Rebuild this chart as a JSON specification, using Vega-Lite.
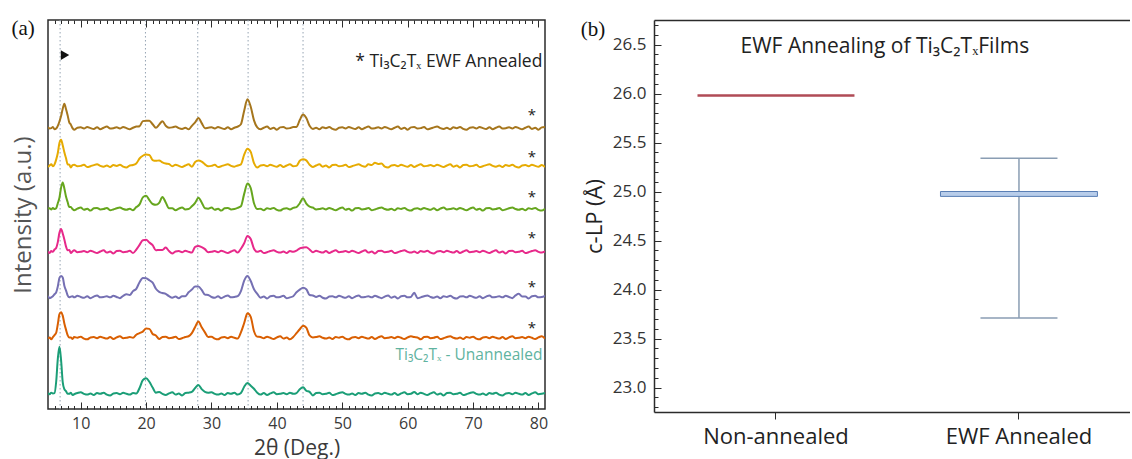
{
  "$schema": "https://vega.github.io/schema/vega-lite/v6.json",
  "padding": {"left": 10, "top": 17, "right": 0, "bottom": 0},
  "spacing": 31,
  "background": "white",
  "datasets": {
    "xrd": [
      {"x":5,"tl":0.2,"or":-0.2,"pu":0.3,"pk":0.1,"gr":0.1,"ye":-0.3,"br":0.3},
      {"x":5.25,"tl":-0.1,"or":0.1,"pu":-0.3,"pk":-0.3,"gr":0.2,"ye":0.1,"br":-0.1},
      {"x":5.5,"tl":0.3,"or":-0.4,"pu":-0.1,"pk":0.2,"gr":-0.1,"ye":0.4,"br":0},
      {"x":5.75,"tl":0.1,"or":0.2,"pu":0.2,"pk":0,"gr":0.3,"ye":-0.1,"br":0.3},
      {"x":6,"tl":0.2,"or":0.7,"pu":0.7,"pk":0.6,"gr":0,"ye":0.4,"br":-0.3},
      {"x":6.25,"tl":3.1,"or":1.3,"pu":1.2,"pk":1.0,"gr":0.2,"ye":1.6,"br":-0.1},
      {"x":6.5,"tl":9.0,"or":3.5,"pu":2.7,"pk":2.5,"gr":1.5,"ye":3.3,"br":0.6},
      {"x":6.75,"tl":12.1,"or":6.1,"pu":4.9,"pk":4.9,"gr":2.9,"ye":5.9,"br":1.7},
      {"x":7,"tl":8.7,"or":6.6,"pu":5.4,"pk":5.9,"gr":5.5,"ye":6.7,"br":3.1},
      {"x":7.25,"tl":3.0,"or":5.7,"pu":5.0,"pk":4.7,"gr":6.8,"ye":5.3,"br":5.0},
      {"x":7.5,"tl":1.2,"or":3.7,"pu":2.9,"pk":3.2,"gr":5.3,"ye":3.5,"br":6.3},
      {"x":7.75,"tl":0.7,"or":2.1,"pu":1.7,"pk":1.4,"gr":3.2,"ye":2.0,"br":4.9},
      {"x":8,"tl":0,"or":0.7,"pu":0.4,"pk":0.4,"gr":1.8,"ye":0.4,"br":3.3},
      {"x":8.25,"tl":0,"or":0.1,"pu":-0.1,"pk":0.5,"gr":0.5,"ye":0.3,"br":1.5},
      {"x":8.5,"tl":0.3,"or":0.1,"pu":0.1,"pk":-0.3,"gr":0.5,"ye":-0.4,"br":0.9},
      {"x":8.75,"tl":-0.3,"or":-0.3,"pu":0.2,"pk":0.1,"gr":0,"ye":0.2,"br":0},
      {"x":9,"tl":-0.1,"or":0.2,"pu":-0.1,"pk":0.4,"gr":-0.3,"ye":0.3,"br":-0.4},
      {"x":9.5,"tl":0.2,"or":0,"pu":0.3,"pk":-0.1,"gr":0.1,"ye":-0.1,"br":0.1},
      {"x":10,"tl":0.4,"or":0.3,"pu":0,"pk":0,"gr":0.4,"ye":0,"br":0.2},
      {"x":10.5,"tl":0,"or":-0.2,"pu":-0.2,"pk":0.2,"gr":-0.2,"ye":0.3,"br":-0.1},
      {"x":11,"tl":-0.2,"or":-0.4,"pu":0.2,"pk":-0.1,"gr":0.1,"ye":-0.3,"br":0.3},
      {"x":11.5,"tl":0.1,"or":0.1,"pu":-0.3,"pk":0.3,"gr":-0.4,"ye":-0.1,"br":0},
      {"x":12,"tl":-0.3,"or":0.2,"pu":0.1,"pk":0,"gr":0.2,"ye":0.2,"br":-0.2},
      {"x":12.5,"tl":0.2,"or":-0.1,"pu":0.4,"pk":-0.3,"gr":0.3,"ye":0.4,"br":0.2},
      {"x":13,"tl":0,"or":0.3,"pu":-0.1,"pk":0.1,"gr":-0.1,"ye":0,"br":-0.3},
      {"x":13.5,"tl":0.3,"or":0,"pu":0,"pk":0.4,"gr":0,"ye":-0.2,"br":0.1},
      {"x":14,"tl":-0.2,"or":-0.2,"pu":0.2,"pk":-0.2,"gr":0.3,"ye":0.1,"br":0.4},
      {"x":14.5,"tl":-0.4,"or":0.2,"pu":-0.1,"pk":0.1,"gr":-0.3,"ye":-0.3,"br":-0.1},
      {"x":15,"tl":0.1,"or":-0.3,"pu":0.3,"pk":-0.4,"gr":-0.1,"ye":0.2,"br":0},
      {"x":15.5,"tl":0.2,"or":0.1,"pu":0,"pk":0.2,"gr":0.2,"ye":0,"br":0.2},
      {"x":16,"tl":-0.1,"or":0.4,"pu":-0.3,"pk":0.3,"gr":0.4,"ye":0.3,"br":-0.1},
      {"x":16.5,"tl":0.3,"or":-0.1,"pu":0.3,"pk":-0.1,"gr":0,"ye":-0.2,"br":0.3},
      {"x":17,"tl":0,"or":0,"pu":0.7,"pk":0,"gr":-0.2,"ye":-0.4,"br":0},
      {"x":17.5,"tl":-0.2,"or":0.2,"pu":0.5,"pk":0.3,"gr":0.1,"ye":0.1,"br":-0.3},
      {"x":18,"tl":0.2,"or":0,"pu":1.5,"pk":-0.3,"gr":-0.3,"ye":0.2,"br":0.1},
      {"x":18.5,"tl":0.1,"or":0.8,"pu":2.1,"pk":0.6,"gr":0.5,"ye":0.6,"br":0.4},
      {"x":19,"tl":1.5,"or":1.2,"pu":3.8,"pk":1.8,"gr":1.2,"ye":1.9,"br":0.5},
      {"x":19.5,"tl":3.5,"or":1.6,"pu":4.9,"pk":3.0,"gr":3.0,"ye":2.6,"br":1.8},
      {"x":20,"tl":4.0,"or":2.4,"pu":4.8,"pk":3.1,"gr":3.4,"ye":2.9,"br":1.9},
      {"x":20.5,"tl":3.1,"or":2.3,"pu":4.3,"pk":2.4,"gr":2.3,"ye":2.8,"br":1.9},
      {"x":21,"tl":1.6,"or":1.0,"pu":3.7,"pk":1.7,"gr":1.3,"ye":1.5,"br":1.0},
      {"x":21.5,"tl":0.3,"or":0.6,"pu":2.1,"pk":0.4,"gr":1.1,"ye":1.3,"br":0.1},
      {"x":22,"tl":0.5,"or":-0.3,"pu":1.3,"pk":0.5,"gr":1.6,"ye":1.4,"br":0.9},
      {"x":22.5,"tl":0,"or":0.2,"pu":1.0,"pk":0.5,"gr":3.1,"ye":0.9,"br":1.8},
      {"x":23,"tl":-0.3,"or":0.3,"pu":0.8,"pk":1.1,"gr":1.7,"ye":0.6,"br":0.6},
      {"x":23.5,"tl":0.1,"or":-0.1,"pu":0.2,"pk":0.2,"gr":0.2,"ye":0.5,"br":0.1},
      {"x":24,"tl":0.4,"or":0,"pu":-0.2,"pk":-0.4,"gr":0.2,"ye":-0.1,"br":0.2},
      {"x":24.5,"tl":-0.2,"or":0.3,"pu":0.1,"pk":0.1,"gr":-0.3,"ye":0.3,"br":0.4},
      {"x":25,"tl":0.1,"or":-0.3,"pu":-0.3,"pk":0.2,"gr":0.1,"ye":0,"br":0},
      {"x":25.5,"tl":-0.4,"or":-0.1,"pu":0.2,"pk":-0.1,"gr":0.4,"ye":-0.3,"br":-0.2},
      {"x":26,"tl":0.2,"or":0.2,"pu":0.2,"pk":0.3,"gr":-0.1,"ye":0.1,"br":0.1},
      {"x":26.5,"tl":0.3,"or":0.4,"pu":1.2,"pk":0,"gr":0,"ye":0.4,"br":-0.3},
      {"x":27,"tl":0.5,"or":1.2,"pu":1.9,"pk":-0.2,"gr":0.7,"ye":-0.2,"br":0.6},
      {"x":27.5,"tl":1.5,"or":2.8,"pu":2.7,"pk":1.3,"gr":1.6,"ye":1.0,"br":1.5},
      {"x":28,"tl":2.3,"or":4.2,"pu":2.7,"pk":1.5,"gr":2.9,"ye":1.4,"br":2.6},
      {"x":28.5,"tl":1.2,"or":2.7,"pu":1.8,"pk":1.2,"gr":1.7,"ye":1.1,"br":1.3},
      {"x":29,"tl":0.5,"or":1.4,"pu":0.6,"pk":0.7,"gr":0.2,"ye":0.4,"br":0},
      {"x":29.5,"tl":0.3,"or":0.2,"pu":0.5,"pk":-0.1,"gr":0.1,"ye":-0.1,"br":0.1},
      {"x":30,"tl":0.4,"or":0.3,"pu":0,"pk":0,"gr":0.4,"ye":0,"br":0.2},
      {"x":30.5,"tl":0,"or":-0.2,"pu":-0.2,"pk":0.2,"gr":-0.2,"ye":0.3,"br":-0.1},
      {"x":31,"tl":-0.2,"or":-0.4,"pu":0.2,"pk":-0.1,"gr":0.1,"ye":-0.3,"br":0.3},
      {"x":31.5,"tl":0.1,"or":0.1,"pu":-0.3,"pk":0.3,"gr":-0.4,"ye":-0.1,"br":0},
      {"x":32,"tl":-0.3,"or":0.2,"pu":0.1,"pk":0,"gr":0.2,"ye":0.2,"br":-0.2},
      {"x":32.5,"tl":0.2,"or":-0.1,"pu":0.4,"pk":-0.3,"gr":0.3,"ye":0.4,"br":0.2},
      {"x":33,"tl":0,"or":0.3,"pu":-0.1,"pk":0.1,"gr":-0.1,"ye":0,"br":-0.3},
      {"x":33.5,"tl":0.3,"or":0,"pu":0,"pk":0.4,"gr":0,"ye":-0.2,"br":0.1},
      {"x":34,"tl":-0.2,"or":-0.2,"pu":0.2,"pk":-0.2,"gr":0.3,"ye":0.1,"br":0.4},
      {"x":34.5,"tl":0.2,"or":1.4,"pu":1.5,"pk":0.8,"gr":0.7,"ye":0.4,"br":1.0},
      {"x":35,"tl":1.8,"or":3.8,"pu":4.2,"pk":2.2,"gr":3.9,"ye":2.9,"br":4.5},
      {"x":35.5,"tl":2.8,"or":6.3,"pu":5.4,"pk":4.1,"gr":6.6,"ye":4.4,"br":7.4},
      {"x":36,"tl":2.1,"or":5.4,"pu":4.1,"pk":3.3,"gr":5.4,"ye":3.6,"br":5.5},
      {"x":36.5,"tl":1.3,"or":1.7,"pu":2.0,"pk":0.8,"gr":1.5,"ye":0.7,"br":2.0},
      {"x":37,"tl":0.3,"or":0.3,"pu":0.8,"pk":0,"gr":0,"ye":-0.4,"br":0.2},
      {"x":37.5,"tl":-0.2,"or":0.2,"pu":-0.2,"pk":0.3,"gr":0.1,"ye":0.1,"br":-0.3},
      {"x":38,"tl":0.2,"or":-0.1,"pu":0.1,"pk":-0.3,"gr":-0.3,"ye":0.2,"br":0.1},
      {"x":38.5,"tl":-0.3,"or":0.3,"pu":-0.4,"pk":-0.1,"gr":0.2,"ye":-0.1,"br":0.4},
      {"x":39,"tl":0.1,"or":0,"pu":0.2,"pk":0.2,"gr":0,"ye":0.3,"br":-0.2},
      {"x":39.5,"tl":0.4,"or":-0.3,"pu":0.3,"pk":0.4,"gr":0.3,"ye":0,"br":0.1},
      {"x":40,"tl":-0.1,"or":0.1,"pu":-0.1,"pk":0,"gr":-0.2,"ye":-0.2,"br":-0.4},
      {"x":40.5,"tl":0,"or":0.4,"pu":0,"pk":-0.2,"gr":-0.4,"ye":0.2,"br":0.2},
      {"x":41,"tl":0.2,"or":-0.2,"pu":0.3,"pk":0.1,"gr":0.1,"ye":-0.3,"br":0.3},
      {"x":41.5,"tl":-0.1,"or":0.1,"pu":-0.3,"pk":-0.3,"gr":0.2,"ye":0.1,"br":-0.1},
      {"x":42,"tl":0.3,"or":-0.4,"pu":-0.1,"pk":0.2,"gr":-0.1,"ye":0.4,"br":0},
      {"x":42.5,"tl":0,"or":0.2,"pu":0.2,"pk":0,"gr":0.3,"ye":-0.1,"br":0.3},
      {"x":43,"tl":0.2,"or":1.2,"pu":1.2,"pk":0.3,"gr":0.5,"ye":0,"br":0.3},
      {"x":43.5,"tl":1.2,"or":2.2,"pu":1.9,"pk":0.9,"gr":1.5,"ye":1.3,"br":2.1},
      {"x":44,"tl":1.7,"or":3.1,"pu":2.4,"pk":1.1,"gr":2.8,"ye":1.7,"br":3.5},
      {"x":44.5,"tl":0.8,"or":2.6,"pu":2.0,"pk":1.2,"gr":1.4,"ye":1.4,"br":2.6},
      {"x":45,"tl":0.5,"or":0.6,"pu":0.5,"pk":0.6,"gr":0.6,"ye":0.3,"br":0.6},
      {"x":45.5,"tl":-0.4,"or":0.1,"pu":0.4,"pk":-0.1,"gr":0.4,"ye":-0.3,"br":-0.2},
      {"x":46,"tl":0.2,"or":0.2,"pu":0,"pk":0.3,"gr":-0.1,"ye":0.1,"br":0.1},
      {"x":46.5,"tl":0.3,"or":0.4,"pu":0.3,"pk":0,"gr":0,"ye":0.4,"br":-0.3},
      {"x":47,"tl":-0.1,"or":0,"pu":-0.2,"pk":-0.2,"gr":0.2,"ye":-0.2,"br":0.2},
      {"x":47.5,"tl":0,"or":-0.2,"pu":-0.4,"pk":0.2,"gr":-0.1,"ye":0.1,"br":0},
      {"x":48,"tl":0.3,"or":0.1,"pu":0.1,"pk":-0.3,"gr":0.3,"ye":-0.4,"br":0.3},
      {"x":48.5,"tl":-0.3,"or":-0.3,"pu":0.2,"pk":0.1,"gr":0,"ye":0.2,"br":-0.2},
      {"x":49,"tl":-0.1,"or":0.2,"pu":-0.1,"pk":0.4,"gr":-0.3,"ye":0.3,"br":-0.4},
      {"x":49.5,"tl":0.2,"or":0,"pu":0.3,"pk":-0.1,"gr":0.1,"ye":-0.1,"br":0.1},
      {"x":50,"tl":0.4,"or":0.3,"pu":0,"pk":0,"gr":0.4,"ye":0,"br":0.2},
      {"x":50.5,"tl":0,"or":-0.2,"pu":-0.2,"pk":0.2,"gr":-0.2,"ye":0.3,"br":-0.1},
      {"x":51,"tl":-0.2,"or":-0.4,"pu":0.2,"pk":-0.1,"gr":0.1,"ye":-0.3,"br":0.3},
      {"x":51.5,"tl":0.1,"or":0.1,"pu":-0.3,"pk":0.3,"gr":-0.4,"ye":-0.1,"br":0},
      {"x":52,"tl":-0.3,"or":0.2,"pu":0.1,"pk":0,"gr":0.2,"ye":0.2,"br":-0.2},
      {"x":52.5,"tl":0.2,"or":-0.1,"pu":0.4,"pk":-0.3,"gr":0.3,"ye":0.4,"br":0.2},
      {"x":53,"tl":0,"or":0.3,"pu":-0.1,"pk":0.1,"gr":-0.1,"ye":0,"br":-0.3},
      {"x":53.5,"tl":0.3,"or":0,"pu":0,"pk":0.4,"gr":0,"ye":-0.2,"br":0.1},
      {"x":54,"tl":-0.2,"or":-0.2,"pu":0.2,"pk":-0.2,"gr":0.3,"ye":0.4,"br":0.4},
      {"x":54.5,"tl":-0.4,"or":0.2,"pu":-0.1,"pk":0.1,"gr":-0.3,"ye":0.2,"br":-0.1},
      {"x":55,"tl":0.1,"or":-0.3,"pu":0.3,"pk":-0.4,"gr":-0.1,"ye":0.8,"br":0},
      {"x":55.5,"tl":0.2,"or":0.1,"pu":0,"pk":0.2,"gr":0.2,"ye":0.5,"br":0.2},
      {"x":56,"tl":-0.1,"or":0.4,"pu":-0.3,"pk":0.3,"gr":0.4,"ye":0.6,"br":-0.1},
      {"x":56.5,"tl":0.3,"or":-0.1,"pu":0.1,"pk":-0.1,"gr":0,"ye":-0.2,"br":0.3},
      {"x":57,"tl":0,"or":0,"pu":0.4,"pk":0,"gr":-0.2,"ye":-0.4,"br":0},
      {"x":57.5,"tl":-0.2,"or":0.2,"pu":-0.2,"pk":0.3,"gr":0.1,"ye":0.1,"br":-0.3},
      {"x":58,"tl":0.2,"or":-0.1,"pu":0.1,"pk":-0.3,"gr":-0.3,"ye":0.2,"br":0.1},
      {"x":58.5,"tl":-0.3,"or":0.3,"pu":-0.4,"pk":-0.1,"gr":0.2,"ye":-0.1,"br":0.4},
      {"x":59,"tl":0.1,"or":0,"pu":0.2,"pk":0.2,"gr":0,"ye":0.3,"br":-0.2},
      {"x":59.5,"tl":0.4,"or":-0.3,"pu":0.3,"pk":0.4,"gr":0.3,"ye":0,"br":0.1},
      {"x":60,"tl":-0.1,"or":0.1,"pu":-0.1,"pk":0,"gr":-0.2,"ye":-0.2,"br":-0.4},
      {"x":60.5,"tl":0,"or":0.4,"pu":0,"pk":-0.2,"gr":-0.4,"ye":0.2,"br":0.2},
      {"x":61,"tl":0.5,"or":0.2,"pu":1.1,"pk":0.1,"gr":0.1,"ye":-0.3,"br":0.3},
      {"x":61.5,"tl":-0.1,"or":0.1,"pu":-0.3,"pk":-0.3,"gr":0.2,"ye":0.1,"br":-0.1},
      {"x":62,"tl":0.3,"or":-0.4,"pu":-0.1,"pk":0.2,"gr":-0.1,"ye":0.4,"br":0},
      {"x":62.5,"tl":0,"or":0.2,"pu":0.2,"pk":0,"gr":0.3,"ye":-0.1,"br":0.3},
      {"x":63,"tl":-0.3,"or":0.3,"pu":0.4,"pk":0.3,"gr":0,"ye":0,"br":-0.3},
      {"x":63.5,"tl":0.1,"or":-0.1,"pu":0,"pk":-0.2,"gr":-0.2,"ye":0.2,"br":-0.1},
      {"x":64,"tl":0.4,"or":0,"pu":-0.2,"pk":-0.4,"gr":0.2,"ye":-0.1,"br":0.2},
      {"x":64.5,"tl":-0.2,"or":0.3,"pu":0.1,"pk":0.1,"gr":-0.3,"ye":0.3,"br":0.4},
      {"x":65,"tl":0.1,"or":-0.3,"pu":-0.3,"pk":0.2,"gr":0.1,"ye":0,"br":0},
      {"x":65.5,"tl":-0.4,"or":-0.1,"pu":0.2,"pk":-0.1,"gr":0.4,"ye":-0.3,"br":-0.2},
      {"x":66,"tl":0.2,"or":0.2,"pu":0,"pk":0.3,"gr":-0.1,"ye":0.1,"br":0.1},
      {"x":66.5,"tl":0.3,"or":0.4,"pu":0.3,"pk":0,"gr":0,"ye":0.4,"br":-0.3},
      {"x":67,"tl":-0.1,"or":0,"pu":-0.2,"pk":-0.2,"gr":0.2,"ye":-0.2,"br":0.2},
      {"x":67.5,"tl":0,"or":-0.2,"pu":-0.4,"pk":0.2,"gr":-0.1,"ye":0.1,"br":0},
      {"x":68,"tl":0.3,"or":0.1,"pu":0.1,"pk":-0.3,"gr":0.3,"ye":-0.4,"br":0.3},
      {"x":68.5,"tl":-0.3,"or":-0.3,"pu":0.2,"pk":0.1,"gr":0,"ye":0.2,"br":-0.2},
      {"x":69,"tl":-0.1,"or":0.2,"pu":-0.1,"pk":0.4,"gr":-0.3,"ye":0.3,"br":-0.4},
      {"x":69.5,"tl":0.2,"or":0,"pu":0.3,"pk":-0.1,"gr":0.1,"ye":-0.1,"br":0.1},
      {"x":70,"tl":0.4,"or":0.3,"pu":0,"pk":0,"gr":0.4,"ye":0,"br":0.2},
      {"x":70.5,"tl":0,"or":-0.2,"pu":-0.2,"pk":0.2,"gr":-0.2,"ye":0.3,"br":-0.1},
      {"x":71,"tl":-0.2,"or":-0.4,"pu":0.2,"pk":-0.1,"gr":0.1,"ye":-0.3,"br":0.3},
      {"x":71.5,"tl":0.1,"or":0.1,"pu":-0.3,"pk":0.3,"gr":-0.4,"ye":-0.1,"br":0},
      {"x":72,"tl":-0.3,"or":0.2,"pu":0.1,"pk":0,"gr":0.2,"ye":0.2,"br":-0.2},
      {"x":72.5,"tl":0.2,"or":-0.1,"pu":0.4,"pk":-0.3,"gr":0.3,"ye":0.4,"br":0.2},
      {"x":73,"tl":0,"or":0.3,"pu":-0.1,"pk":0.1,"gr":-0.1,"ye":0,"br":-0.3},
      {"x":73.5,"tl":0.3,"or":0,"pu":0,"pk":0.4,"gr":0,"ye":-0.2,"br":0.1},
      {"x":74,"tl":-0.2,"or":-0.2,"pu":0.2,"pk":-0.2,"gr":0.3,"ye":0.1,"br":0.4},
      {"x":74.5,"tl":-0.4,"or":0.2,"pu":-0.1,"pk":0.1,"gr":-0.3,"ye":-0.3,"br":-0.1},
      {"x":75,"tl":0.1,"or":-0.3,"pu":0.3,"pk":-0.4,"gr":-0.1,"ye":0.2,"br":0},
      {"x":75.5,"tl":0.2,"or":0.1,"pu":0,"pk":0.2,"gr":0.2,"ye":0,"br":0.2},
      {"x":76,"tl":-0.1,"or":0.4,"pu":-0.3,"pk":0.3,"gr":0.4,"ye":0.3,"br":-0.1},
      {"x":76.5,"tl":0.3,"or":-0.1,"pu":0.4,"pk":-0.1,"gr":0,"ye":-0.2,"br":0.3},
      {"x":77,"tl":0,"or":0,"pu":0.8,"pk":0,"gr":-0.2,"ye":-0.4,"br":0},
      {"x":77.5,"tl":-0.2,"or":0.2,"pu":0.1,"pk":0.3,"gr":0.1,"ye":0.1,"br":-0.3},
      {"x":78,"tl":0.2,"or":-0.1,"pu":0.1,"pk":-0.3,"gr":-0.3,"ye":0.2,"br":0.1},
      {"x":78.5,"tl":-0.3,"or":0.3,"pu":-0.4,"pk":-0.1,"gr":0.2,"ye":-0.1,"br":0.4},
      {"x":79,"tl":0.1,"or":0,"pu":0.2,"pk":0.2,"gr":0,"ye":0.3,"br":-0.2},
      {"x":79.5,"tl":0.4,"or":-0.3,"pu":0.3,"pk":0.4,"gr":0.3,"ye":0,"br":0.1},
      {"x":80,"tl":-0.1,"or":0.1,"pu":-0.1,"pk":0,"gr":-0.2,"ye":-0.2,"br":-0.4},
      {"x":80.5,"tl":0,"or":0.4,"pu":0,"pk":-0.2,"gr":-0.4,"ye":0.2,"br":0.2},
      {"x":81,"tl":0.2,"or":-0.2,"pu":0.3,"pk":0.1,"gr":0.1,"ye":-0.3,"br":0.3}
    ],
    "refs": [{"pos":6.85},{"pos":19.9},{"pos":27.9},{"pos":35.6},{"pos":44.0}],
    "stars": [
      {"x":79,"yy":75.7,"label":"*"},{"x":79,"yy":64.9,"label":"*"},{"x":79,"yy":54.4,"label":"*"},
      {"x":79,"yy":43.9,"label":"*"},{"x":79,"yy":31.3,"label":"*"},{"x":79,"yy":20.8,"label":"*"}
    ],
    "legend": [{"x":80.6,"yy":89.2,"label":"* Ti₃C₂Tₓ  EWF Annealed"}],
    "unann": [{"x":80.6,"yy":13.9,"label":"Ti₃C₂Tₓ - Unannealed"}],
    "arrow": [{"x":7.6,"yy":91.0}],
    "alabel": [{"x":1.2,"yy":97.7,"label":"(a)"}],
    "box": [
      {"group":"Non-annealed","lo":25.98,"q1":25.98,"med":25.98,"q3":25.98,"hi":25.98},
      {"group":"EWF Annealed","lo":23.71,"q1":24.95,"med":24.975,"q3":25.0,"hi":25.34}
    ],
    "blabel": [{"h":-12.8,"v":26.65,"label":"(b)"}],
    "btitle": [{"h":48.5,"v":26.47,"label":"EWF Annealing of Ti₃C₂TₓFilms"}]
  },
  "hconcat": [
    {
      "width": 497,
      "height": 389,
      "layer": [
        {
          "data": {"name": "refs"},
          "mark": {"type": "rule", "color": "#95a3b3", "strokeDash": [1.5, 2.5], "strokeWidth": 1},
          "encoding": {
            "x": {"field": "pos", "type": "quantitative", "scale": {"domain": [5, 81], "nice": false, "zero": false},
              "axis": {"orient": "bottom", "values": [10,20,30,40,50,60,70,80], "tickSize": -7, "labelPadding": 13, "labelFontSize": 16, "title": "2θ (Deg.)", "titleFontSize": 21, "titlePadding": 6, "domain": false}}
          }
        },
        {
          "data": {"name": "xrd"},
          "mark": {"type": "line", "color": "#1b9e77", "strokeWidth": 2, "clip": true, "interpolate": "monotone"},
          "encoding": {
            "x": {"field": "x", "type": "quantitative", "scale": {"domain": [5, 81], "nice": false, "zero": false},
              "axis": {"orient": "bottom", "values": [6,7,8,9,11,12,13,14,15,16,17,18,19,21,22,23,24,25,26,27,28,29,31,32,33,34,35,36,37,38,39,41,42,43,44,45,46,47,48,49,51,52,53,54,55,56,57,58,59,61,62,63,64,65,66,67,68,69,71,72,73,74,75,76,77,78,79], "labels": false, "tickSize": -3.5, "title": null, "domain": false}},
            "y": {"field": "tl", "type": "quantitative", "scale": {"domain": [-3.9, 96.1], "nice": false, "zero": false},
              "axis": {"orient": "left", "title": "Intensity (a.u.)", "labels": false, "ticks": false, "domain": false, "titleFontSize": 24, "titlePadding": 13, "titleColor": "#555"}}
          }
        },
        {
          "data": {"name": "xrd"},
          "mark": {"type": "line", "color": "#d95f02", "strokeWidth": 2, "clip": true, "interpolate": "monotone"},
          "encoding": {
            "x": {"field": "x", "type": "quantitative", "axis": {"orient": "top", "values": [10,20,30,40,50,60,70,80], "labels": false, "tickSize": -7, "title": null, "domain": false}},
            "y": {"field": "or", "type": "quantitative", "scale": {"domain": [-18.3, 81.7], "nice": false, "zero": false}, "axis": null}
          }
        },
        {
          "data": {"name": "xrd"},
          "mark": {"type": "line", "color": "#7570b3", "strokeWidth": 2, "clip": true, "interpolate": "monotone"},
          "encoding": {
            "x": {"field": "x", "type": "quantitative", "axis": {"orient": "top", "values": [6,7,8,9,11,12,13,14,15,16,17,18,19,21,22,23,24,25,26,27,28,29,31,32,33,34,35,36,37,38,39,41,42,43,44,45,46,47,48,49,51,52,53,54,55,56,57,58,59,61,62,63,64,65,66,67,68,69,71,72,73,74,75,76,77,78,79], "labels": false, "tickSize": -3.5, "title": null, "domain": false}},
            "y": {"field": "pu", "type": "quantitative", "scale": {"domain": [-28.8, 71.2], "nice": false, "zero": false}, "axis": null}
          }
        },
        {
          "data": {"name": "xrd"},
          "mark": {"type": "line", "color": "#e7298a", "strokeWidth": 2, "clip": true, "interpolate": "monotone"},
          "encoding": {
            "x": {"field": "x", "type": "quantitative", "axis": null},
            "y": {"field": "pk", "type": "quantitative", "scale": {"domain": [-40.4, 59.6], "nice": false, "zero": false}, "axis": null}
          }
        },
        {
          "data": {"name": "xrd"},
          "mark": {"type": "line", "color": "#66a61e", "strokeWidth": 2, "clip": true, "interpolate": "monotone"},
          "encoding": {
            "x": {"field": "x", "type": "quantitative", "axis": null},
            "y": {"field": "gr", "type": "quantitative", "scale": {"domain": [-51.4, 48.6], "nice": false, "zero": false}, "axis": null}
          }
        },
        {
          "data": {"name": "xrd"},
          "mark": {"type": "line", "color": "#e6ab02", "strokeWidth": 2, "clip": true, "interpolate": "monotone"},
          "encoding": {
            "x": {"field": "x", "type": "quantitative", "axis": null},
            "y": {"field": "ye", "type": "quantitative", "scale": {"domain": [-62.5, 37.5], "nice": false, "zero": false}, "axis": null}
          }
        },
        {
          "data": {"name": "xrd"},
          "mark": {"type": "line", "color": "#a6761d", "strokeWidth": 2, "clip": true, "interpolate": "monotone"},
          "encoding": {
            "x": {"field": "x", "type": "quantitative", "axis": null},
            "y": {"field": "br", "type": "quantitative", "scale": {"domain": [-72.2, 27.8], "nice": false, "zero": false}, "axis": null}
          }
        },
        {
          "data": {"name": "stars"},
          "mark": {"type": "text", "fontSize": 15, "color": "#222", "baseline": "middle"},
          "encoding": {
            "x": {"field": "x", "type": "quantitative", "axis": null},
            "y": {"field": "yy", "type": "quantitative", "scale": {"domain": [0, 100], "nice": false, "zero": false}, "axis": null},
            "text": {"field": "label"}
          }
        },
        {
          "data": {"name": "legend"},
          "mark": {"type": "text", "fontSize": 17.5, "color": "#222", "baseline": "middle", "align": "right"},
          "encoding": {
            "x": {"field": "x", "type": "quantitative", "axis": null},
            "y": {"field": "yy", "type": "quantitative", "scale": {"domain": [0, 100], "nice": false, "zero": false}, "axis": null},
            "text": {"field": "label"}
          }
        },
        {
          "data": {"name": "unann"},
          "mark": {"type": "text", "fontSize": 15.5, "color": "#5fb3a0", "baseline": "middle", "align": "right"},
          "encoding": {
            "x": {"field": "x", "type": "quantitative", "axis": null},
            "y": {"field": "yy", "type": "quantitative", "scale": {"domain": [0, 100], "nice": false, "zero": false}, "axis": null},
            "text": {"field": "label"}
          }
        },
        {
          "data": {"name": "arrow"},
          "mark": {"type": "point", "shape": "triangle-right", "filled": true, "color": "#111", "size": 95, "opacity": 1},
          "encoding": {
            "x": {"field": "x", "type": "quantitative", "axis": null},
            "y": {"field": "yy", "type": "quantitative", "scale": {"domain": [0, 100], "nice": false, "zero": false}, "axis": null}
          }
        },
        {
          "data": {"name": "alabel"},
          "mark": {"type": "text", "font": "Liberation Serif", "fontSize": 21, "color": "#111", "baseline": "middle"},
          "encoding": {
            "x": {"field": "x", "type": "quantitative", "axis": null},
            "y": {"field": "yy", "type": "quantitative", "scale": {"domain": [0, 100], "nice": false, "zero": false}, "axis": null},
            "text": {"field": "label"}
          }
        }
      ],
      "resolve": {"scale": {"y": "independent"}, "axis": {"x": "independent", "y": "independent"}}
    },
    {
      "width": 476,
      "height": 392,
      "view": {"stroke": null},
      "layer": [
        {
          "layer": [
            {
              "data": {"name": "box"},
              "transform": [{"filter": "datum.group == 'EWF Annealed'"}],
              "mark": {"type": "rule", "color": "#8a9db3", "strokeWidth": 1.5},
              "encoding": {
                "x": {"field": "group", "type": "nominal", "sort": ["Non-annealed", "EWF Annealed"],
                  "scale": {"type": "band", "paddingInner": 0.354, "paddingOuter": 0.1565, "align": 0.572},
                  "axis": {"orient": "top", "labels": false, "ticks": false, "title": null, "domain": true, "domainWidth": 1.5}},
                "y": {"field": "lo", "type": "quantitative", "scale": {"domain": [22.75, 26.75], "nice": false, "zero": false},
                  "axis": {"orient": "left", "values": [22.8,22.9,23,23.1,23.2,23.3,23.4,23.5,23.6,23.7,23.8,23.9,24,24.1,24.2,24.3,24.4,24.5,24.6,24.7,24.8,24.9,25,25.1,25.2,25.3,25.4,25.5,25.6,25.7,25.8,25.9,26,26.1,26.2,26.3,26.4,26.5,26.6,26.7], "labels": false, "tickSize": -4, "domain": false, "title": null}},
                "y2": {"field": "hi"}
              }
            },
            {
              "data": {"name": "box"},
              "transform": [{"filter": "datum.group == 'EWF Annealed'"}],
              "mark": {"type": "tick", "color": "#8a9db3", "size": 77, "thickness": 1.5, "opacity": 1},
              "encoding": {
                "x": {"field": "group", "type": "nominal", "sort": ["Non-annealed", "EWF Annealed"], "scale": {"type": "band"}, "axis": null},
                "y": {"field": "lo", "type": "quantitative", "axis": null}
              }
            },
            {
              "data": {"name": "box"},
              "transform": [{"filter": "datum.group == 'EWF Annealed'"}],
              "mark": {"type": "tick", "color": "#8a9db3", "size": 77, "thickness": 1.5, "opacity": 1},
              "encoding": {
                "x": {"field": "group", "type": "nominal", "sort": ["Non-annealed", "EWF Annealed"], "scale": {"type": "band"}, "axis": null},
                "y": {"field": "hi", "type": "quantitative", "axis": null}
              }
            },
            {
              "data": {"name": "box"},
              "mark": {"type": "bar", "opacity": 1},
              "encoding": {
                "x": {"field": "group", "type": "nominal", "sort": ["Non-annealed", "EWF Annealed"], "scale": {"type": "band"},
                  "axis": {"orient": "bottom", "title": null, "labelAngle": 0, "labelFontSize": 22, "labelColor": "#222", "tickSize": 7, "labelPadding": 7, "domainWidth": 1.5}},
                "y": {"field": "q1", "type": "quantitative",
                  "axis": {"orient": "left", "values": [23,23.5,24,24.5,25,25.5,26,26.5], "format": ".1f", "tickSize": -7, "labelPadding": 15, "labelFontSize": 17, "labelColor": "#333", "title": "c-LP (Å)", "titleFontSize": 22, "titleColor": "#222", "titlePadding": 6, "domainWidth": 1.5}},
                "y2": {"field": "q3"},
                "fill": {"field": "group", "type": "nominal", "scale": {"domain": ["Non-annealed", "EWF Annealed"], "range": ["#b04b56", "#b8cdea"]}, "legend": null},
                "stroke": {"field": "group", "type": "nominal", "scale": {"domain": ["Non-annealed", "EWF Annealed"], "range": ["#b04b56", "#5a7fb5"]}, "legend": null},
                "strokeWidth": {"field": "group", "type": "nominal", "scale": {"domain": ["Non-annealed", "EWF Annealed"], "range": [2.5, 1]}, "legend": null}
              }
            }
          ],
          "resolve": {"axis": {"x": "independent", "y": "independent"}}
        },
        {
          "data": {"name": "blabel"},
          "mark": {"type": "text", "font": "Liberation Serif", "fontSize": 21, "color": "#111", "baseline": "middle"},
          "encoding": {
            "x": {"field": "h", "type": "quantitative", "scale": {"domain": [0, 100], "nice": false, "zero": false}, "axis": null},
            "y": {"field": "v", "type": "quantitative", "axis": null},
            "text": {"field": "label"}
          }
        },
        {
          "data": {"name": "btitle"},
          "mark": {"type": "text", "fontSize": 21, "color": "#222", "baseline": "middle"},
          "encoding": {
            "x": {"field": "h", "type": "quantitative", "scale": {"domain": [0, 100], "nice": false, "zero": false}, "axis": null},
            "y": {"field": "v", "type": "quantitative", "axis": null},
            "text": {"field": "label"}
          }
        }
      ],
      "resolve": {"scale": {"x": "independent"}, "axis": {"x": "independent", "y": "independent"}}
    }
  ],
  "config": {
    "font": "Open Sans",
    "view": {"stroke": "#2b2b2b", "strokeWidth": 1.5},
    "axis": {"grid": false, "labelFont": "Open Sans", "titleFont": "Open Sans", "titleFontWeight": "normal", "domainColor": "#2b2b2b", "tickColor": "#2b2b2b", "labelColor": "#3a3a3a", "titleColor": "#3a3a3a"},
    "text": {"font": "Open Sans"}
  }
}
